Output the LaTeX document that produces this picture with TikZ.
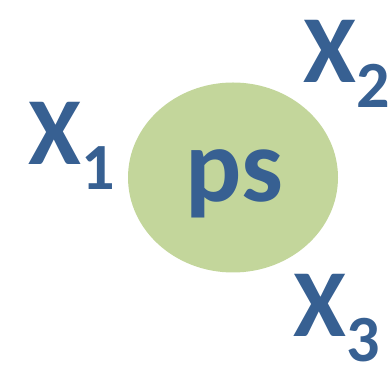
\documentclass[tikz,border=0pt]{standalone}
\usepackage{fontspec}
\setmainfont{Carlito}
\definecolor{myBlue}{RGB}{55,96,146}
\definecolor{myGreen}{RGB}{195,214,155}
\usetikzlibrary{positioning, shapes.geometric}
\newcommand{\varsub}[1]{X\raisebox{-25pt}{\fontsize{66}{66}\selectfont #1}}

\begin{document}
\begin{tikzpicture}[x=1pt, y=1pt,
  var/.style={inner sep=0pt, anchor=base west, text=myBlue,
              font=\bfseries\fontsize{96}{96}\selectfont},
  blob/.style={ellipse, fill=myGreen, minimum width=210pt, minimum height=190pt,
               inner sep=0pt}]
  \useasboundingbox (0,0) rectangle (389,374);
  \node[blob] (ps) at (233,196.5) {};
  \node[inner sep=0pt, anchor=base, text=myBlue,
        font=\bfseries\fontsize{105}{105}\selectfont] (lbl) at (234,172) {ps};
  \node[var] (x1) at (28,209) {\varsub{1}};
  \node[var] (x2) at (303,291) {\varsub{2}};
  \node[var] (x3) at (293,37) {\varsub{3}};
\end{tikzpicture}
\end{document}
